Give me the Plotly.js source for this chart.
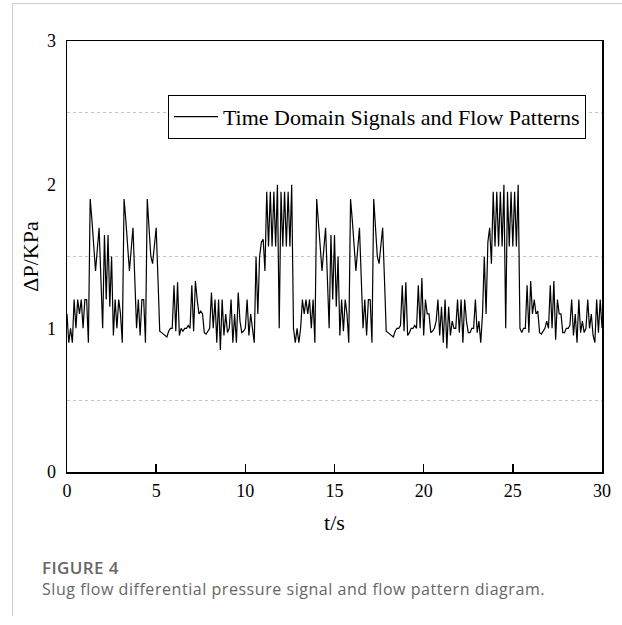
<!DOCTYPE html>
<html>
<head>
<meta charset="utf-8">
<script src="https://cdn.plot.ly/plotly-3.0.1.min.js"></script>
<style>
  html, body { margin:0; padding:0; background:#fff; }
  #wrap { position:relative; width:622px; height:625px; overflow:hidden; }
  #frame { position:absolute; left:12px; top:3px; width:620px; height:612px;
           border-top:1px solid #cccccc; border-left:1px solid #cccccc; }
  #chart { position:absolute; left:0; top:0; width:622px; height:625px; }
  #figlabel { position:absolute; left:42px; top:556px; font-family:"Open Sans", sans-serif;
              font-size:17px; font-weight:600; color:#666; letter-spacing:0.4px; }
  #caption { position:absolute; left:42px; top:578px; font-family:"Open Sans", sans-serif;
             font-size:16px; color:#666; white-space:nowrap; letter-spacing:0.55px; }
</style>
</head>
<body>
<div id="wrap">
  <div id="frame"></div>
  <div id="chart"></div>
  <div id="figlabel">FIGURE 4</div>
  <div id="caption">Slug flow differential pressure signal and flow pattern diagram.</div>
</div>
<script>
// Sampling interval of the signal (s)
var sampleStep = 0.1;

// Differential pressure (kPa), 0.0 s – 10.0 s
var dp0to10 = [
  1.1, 0.9, 1.0, 0.9, 1.2, 1.0, 1.2, 1.1, 1.2, 1.0,
  1.2, 1.2, 0.9, 1.9, 1.75, 1.6, 1.4, 1.55, 1.7, 1.35,
  1.0, 1.65, 1.2, 1.65, 1.15, 1.5, 0.95, 1.2, 1.0, 1.2,
  1.1, 0.9, 1.9, 1.75, 1.6, 1.4, 1.55, 1.7, 1.35, 1.0,
  1.2, 0.95, 1.2, 1.2, 0.9, 1.9, 1.7, 1.5, 1.45, 1.6,
  1.7, 1.35, 0.98, 0.97, 0.96, 0.95, 0.94, 0.98, 1.0, 1.0,
  1.3, 0.98, 1.32, 0.95, 1.0, 0.98, 1.0, 1.0, 1.02, 1.0,
  1.3, 0.98, 1.33, 1.2, 1.1, 1.12, 1.1, 0.97, 0.96, 0.98,
  1.0, 1.25, 1.0, 1.2, 0.9, 1.2, 0.85, 1.2, 0.95, 1.1,
  0.97, 1.0, 1.2, 0.9, 1.1, 0.9, 1.25, 1.05, 0.97, 0.98
];
// 10.0 s – 20.0 s
var dp10to20 = [
  1.0, 1.2, 0.95, 1.1, 1.0, 0.9, 1.5, 1.1, 1.5, 1.6,
  1.62, 1.4, 1.95, 1.57, 1.95, 1.57, 1.95, 1.57, 2.0, 1.0,
  1.95, 1.57, 1.95, 1.57, 1.95, 1.57, 2.0, 1.0, 0.9, 1.0,
  0.9, 1.0, 1.2, 1.1, 1.2, 1.1, 1.2, 1.0, 1.2, 0.9,
  1.9, 1.75, 1.6, 1.4, 1.55, 1.7, 1.35, 1.0, 1.65, 1.2,
  1.65, 1.15, 1.5, 0.95, 1.2, 0.98, 1.2, 1.1, 0.9, 1.9,
  1.75, 1.6, 1.4, 1.55, 1.7, 1.35, 1.0, 1.2, 0.95, 1.2,
  1.2, 0.9, 1.9, 1.7, 1.5, 1.45, 1.6, 1.7, 1.35, 0.98,
  0.97, 0.96, 0.95, 0.94, 0.98, 1.0, 1.0, 1.02, 1.3, 0.98,
  1.32, 0.95, 0.97, 1.0, 1.0, 1.02, 1.0, 1.3, 1.0, 1.35
];
// 20.0 s – 30.0 s
var dp20to30 = [
  0.95, 1.2, 1.1, 1.1, 0.97, 0.98, 1.0, 1.05, 1.2, 0.95,
  1.15, 0.9, 1.2, 0.86, 1.15, 0.95, 1.05, 1.0, 1.0, 1.2,
  0.97, 1.2, 0.9, 1.2, 1.05, 0.97, 0.97, 1.0, 1.0, 1.2,
  0.97, 1.05, 0.9, 1.1, 1.5, 1.1, 1.6, 1.7, 1.45, 1.95,
  1.57, 1.95, 1.57, 1.95, 1.57, 2.0, 1.0, 1.95, 1.57, 1.95,
  1.57, 1.95, 1.57, 2.0, 1.0, 0.97, 1.0, 1.0, 1.3, 0.97,
  1.33, 1.1, 1.2, 1.1, 1.12, 0.97, 0.96, 0.98, 1.0, 1.05,
  1.0, 1.3, 1.0, 1.33, 0.92, 1.2, 1.1, 1.1, 0.97, 0.97,
  1.0, 1.0, 1.02, 1.2, 0.95, 1.1, 0.9, 1.2, 0.97, 1.05,
  0.97, 1.0, 1.2, 1.0, 1.1, 0.95, 0.9, 1.2, 0.97, 1.2,
  1.0
];

var seriesName = "Time Domain Signals and Flow Patterns";
var xTickVals = [0, 5, 10, 15, 20, 25, 30];
var yTickVals = [0, 1, 2, 3];

var dpValues = dp0to10.concat(dp10to20, dp20to30);
var tValues = dpValues.map(function (_, i) { return +(i * sampleStep).toFixed(1); });

var serif = "Liberation Serif, Times New Roman, serif";

var trace = {
  x: tValues,
  y: dpValues,
  type: "scatter",
  mode: "lines",
  name: seriesName,
  line: { color: "#000000", width: 1.2 },
  showlegend: true
};

var layout = {
  width: 622,
  height: 625,
  margin: { l: 67, r: 20, t: 41, b: 153 },
  paper_bgcolor: "rgba(0,0,0,0)",
  plot_bgcolor: "rgba(0,0,0,0)",
  font: { family: serif, size: 18, color: "#000" },
  showlegend: true,
  legend: {
    x: 0.97, y: 0.875, xanchor: "right", yanchor: "top",
    bgcolor: "#ffffff", bordercolor: "#000000", borderwidth: 1,
    font: { family: serif, size: 22, color: "#000" },
    itemwidth: 44
  },
  xaxis: {
    range: [0, 30],
    tickvals: xTickVals,
    ticktext: xTickVals.map(String),
    ticks: "inside", ticklen: 8, tickwidth: 1.5, tickcolor: "#000",
    showline: true, linecolor: "#000", linewidth: 1.5, mirror: true,
    showgrid: false, zeroline: false,
    tickfont: { family: serif, size: 18, color: "#000" },
    ticklabelstandoff: 2,
    title: { text: "t/s", font: { family: serif, size: 22, color: "#000" }, standoff: 14 },
    automargin: false
  },
  yaxis: {
    range: [0, 3],
    tickvals: yTickVals,
    ticktext: yTickVals.map(String),
    ticks: "",
    showline: true, linecolor: "#000", linewidth: 1.5, mirror: true,
    showgrid: false, zeroline: false,
    minor: { tick0: 0.5, dtick: 1, showgrid: true, gridcolor: "#c4c4c4", griddash: "dot", gridwidth: 1, ticks: "" },
    tickfont: { family: serif, size: 18, color: "#000" },
    ticklabelstandoff: 6,
    title: { text: "ΔP/KPa", font: { family: serif, size: 22, color: "#000" }, standoff: 2 },
    automargin: false
  }
};

Plotly.newPlot("chart", [trace], layout, { displayModeBar: false, staticPlot: true });
</script>
</body>
</html>
